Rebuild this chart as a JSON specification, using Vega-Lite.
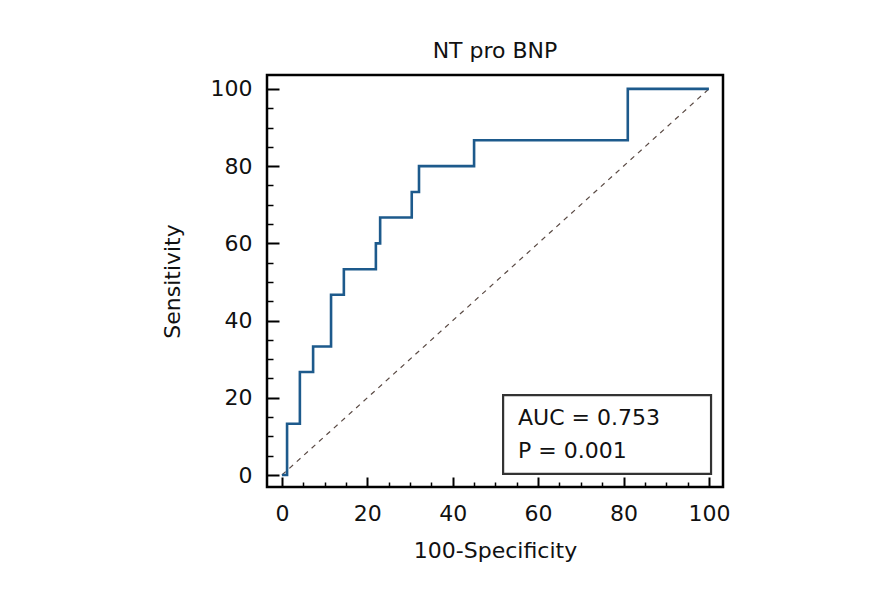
{
  "$schema": "https://vega.github.io/schema/vega-lite/v6.json",
  "width": 456,
  "height": 412,
  "autosize": "none",
  "padding": {"left": 267, "top": 75, "right": 154, "bottom": 114},
  "background": "white",
  "config": {
    "view": {"stroke": "black", "strokeWidth": 2.5},
    "font": "DejaVu Sans",
    "axis": {"grid": false}
  },
  "title": {"text": "NT pro BNP", "fontSize": 22, "fontWeight": "normal", "color": "#111", "offset": 12, "font": "DejaVu Sans"},
  "resolve": {"axis": {"x": "independent", "y": "independent"}},
  "datasets": {
    "roc": [
      {"fpr": 0, "tpr": 0},
      {"fpr": 1.2, "tpr": 13.3},
      {"fpr": 4.2, "tpr": 26.7},
      {"fpr": 7.3, "tpr": 33.3},
      {"fpr": 11.5, "tpr": 46.7},
      {"fpr": 14.5, "tpr": 53.3},
      {"fpr": 22, "tpr": 60},
      {"fpr": 23, "tpr": 66.7},
      {"fpr": 30.4, "tpr": 73.3},
      {"fpr": 32.1, "tpr": 80},
      {"fpr": 45, "tpr": 86.7},
      {"fpr": 81, "tpr": 100},
      {"fpr": 100, "tpr": 100}
    ],
    "diag": [{"fpr": 0, "tpr": 0}, {"fpr": 100, "tpr": 100}],
    "box": [{"x1": 51.8, "x2": 100.5, "y1": 0.3, "y2": 20.7}],
    "stats": [
      {"label": "AUC = 0.753", "fpr": 55.3, "tpr": 13},
      {"label": "P = 0.001", "fpr": 55.3, "tpr": 4.4}
    ]
  },
  "layer": [
    {
      "data": {"name": "diag"},
      "mark": {"type": "line", "color": "#5a4a44", "strokeWidth": 1.2, "strokeDash": [5, 5]},
      "encoding": {
        "x": {
          "field": "fpr", "type": "quantitative",
          "scale": {"domain": [-3.5, 103.3], "nice": false, "zero": false},
          "axis": {
            "orient": "bottom",
            "title": "100-Specificity",
            "titleFontSize": 22, "titleFontWeight": "normal", "titleColor": "#111", "titlePadding": 16,
            "values": [0, 20, 40, 60, 80, 100],
            "labelFontSize": 22, "labelColor": "#111", "labelPadding": 26,
            "tickColor": "black", "tickWidth": 2, "tickSize": -10,
            "domain": false
          }
        },
        "y": {
          "field": "tpr", "type": "quantitative",
          "scale": {"domain": [-3.1, 103.6], "nice": false, "zero": false},
          "axis": {
            "orient": "left",
            "title": "Sensitivity",
            "titleFontSize": 22, "titleFontWeight": "normal", "titleColor": "#111", "titlePadding": 26,
            "values": [0, 20, 40, 60, 80, 100],
            "labelFontSize": 22, "labelColor": "#111", "labelPadding": 27,
            "tickColor": "black", "tickWidth": 2, "tickSize": -12,
            "domain": false
          }
        }
      }
    },
    {
      "data": {"name": "roc"},
      "mark": {"type": "line", "interpolate": "step-after", "color": "#1d5a8c", "strokeWidth": 2.6},
      "encoding": {
        "x": {
          "field": "fpr", "type": "quantitative",
          "axis": {
            "orient": "bottom", "title": null, "labels": false, "domain": false,
            "values": [5,10,15,25,30,35,45,50,55,65,70,75,85,90,95],
            "tickColor": "black", "tickWidth": 1.5, "tickSize": -5
          }
        },
        "y": {
          "field": "tpr", "type": "quantitative",
          "axis": {
            "orient": "left", "title": null, "labels": false, "domain": false,
            "values": [5,10,15,25,30,35,45,50,55,65,70,75,85,90,95],
            "tickColor": "black", "tickWidth": 1.5, "tickSize": -6
          }
        }
      }
    },
    {
      "data": {"name": "box"},
      "mark": {"type": "rect", "fill": "white", "stroke": "#333", "strokeWidth": 2.2},
      "encoding": {
        "x": {"field": "x1", "type": "quantitative", "axis": null},
        "x2": {"field": "x2"},
        "y": {"field": "y1", "type": "quantitative", "axis": null},
        "y2": {"field": "y2"}
      }
    },
    {
      "data": {"name": "stats"},
      "mark": {"type": "text", "align": "left", "baseline": "alphabetic", "fontSize": 22, "color": "#111"},
      "encoding": {
        "x": {"field": "fpr", "type": "quantitative", "axis": null},
        "y": {"field": "tpr", "type": "quantitative", "axis": null},
        "text": {"field": "label"}
      }
    }
  ]
}
